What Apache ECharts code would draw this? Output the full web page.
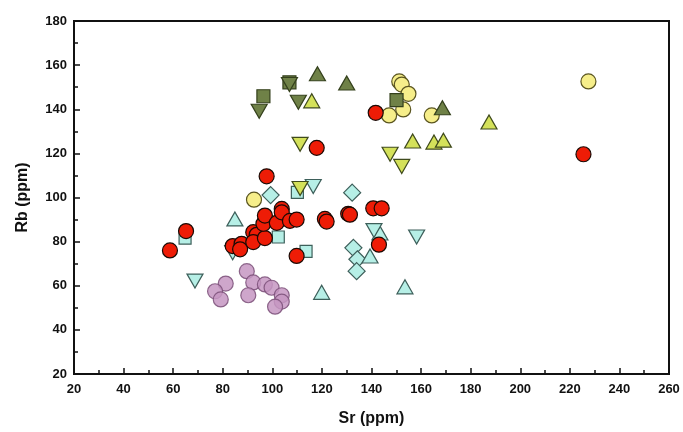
<!DOCTYPE html>
<html><head><meta charset="utf-8">
<script src="https://cdn.jsdelivr.net/npm/echarts@6/dist/echarts.min.js"></script>
<style>html,body{margin:0;padding:0;background:#fff}#c{width:683px;height:432px}</style>
</head><body><div id="c"></div>
<script>
const xTicks = [20,40,60,80,100,120,140,160,180,200,220,240,260];
const yTicks = [20,40,60,80,100,120,140,160,180];

const redCircles = [[58.7,76],[65.2,84.8],[84,78],[87.6,79],[87,76.5],[92.3,84.3],[93.7,83.1],[92.3,79.8],[97,81.6],[96.4,88.1],[97,91.8],[97.7,109.6],[101.8,88.5],[103.8,94.8],[103.8,93.3],[107.1,89.4],[109.8,90],[109.8,73.5],[117.9,122.5],[121.2,90.3],[121.9,89.1],[130.6,92.6],[131.3,92.2],[140.7,95.1],[144.1,95.1],[143,78.6],[141.7,138.4],[225.5,119.6]];
const yellowCircles = [[92.6,99],[151.2,152.6],[152.2,151.2],[154.9,147],[152.8,139.9],[147.1,137.2],[164.3,137.2],[227.5,152.6]];
const purpleCircles = [[89.7,66.6],[81.2,61],[76.9,57.5],[79.2,53.8],[92.3,61.5],[90.3,55.7],[97,60.6],[99.7,59.1],[103.8,55.7],[103.8,52.8],[101.1,50.5]];
const oliveSquares = [[96.4,145.9],[106.9,152.2],[150.1,144.1]];
const oliveTriangles = [[118.2,156.1],[130,151.9],[168.6,140.7]];
const oliveInvTriangles = [[94.7,139.1],[106.9,151.2],[110.5,143.2]];
const limeTriangles = [[115.9,143.8],[156.6,125.6],[165.2,125.1],[169,126],[187.4,134.2]];
const limeInvTriangles = [[111.2,124.1],[147.5,119.6],[152.2,114.1],[111.2,104.1]];
const cyanDiamonds = [[99.3,101.1],[132.2,102.2],[132.7,77.2],[134.3,72],[134,66.6]];
const cyanSquares = [[110.1,102.3],[102.4,82.1],[64.8,81.6],[113.6,75.6]];
const cyanTriangles = [[84.9,90.3],[119.9,57],[139.4,73.5],[143.4,83.9],[153.5,59.5]];
const cyanInvTriangles = [[116.5,105],[68.8,62.1],[141,85],[158.2,82.1],[84,75]];

function s(name, data, symbol, size, fill, border, rotate, opacity){
  return {name, type:'scatter', data, symbol, symbolSize:size, symbolRotate:rotate||0,
    itemStyle:{color:fill, borderColor:border, borderWidth:1.2, opacity:opacity==null?1:opacity},
    emphasis:{disabled:true}};
}
const cyan='#b6efe6', cyanB='#3d5f5a';
const lime='#d4e15a', limeB='#3f4a1c';
const olive='#6f8147', oliveB='#34401c';
const lab={fontFamily:'Liberation Sans',fontWeight:'bold',fontSize:13,color:'#111'};
const nm={fontFamily:'Liberation Sans',fontWeight:'bold',fontSize:16,color:'#111'};
const chart = echarts.init(document.getElementById('c'));
chart.setOption({
  animation:false,
  backgroundColor:'#fff',
  grid:{left:74,right:14,top:21,bottom:56,show:true,borderColor:'#111',borderWidth:2,backgroundColor:'transparent'},
  xAxis:{type:'value',min:xTicks[0],max:xTicks[xTicks.length-1],interval:20,
    name:'Sr (ppm)',nameLocation:'middle',nameGap:37,nameTextStyle:nm,
    axisLine:{lineStyle:{color:'#111',width:2}},
    axisTick:{inside:true,length:6,lineStyle:{color:'#111',width:1.5}},
    minorTick:{show:true,splitNumber:2,length:4,lineStyle:{color:'#111',width:1.5}},
    axisLabel:Object.assign({margin:9},lab),
    splitLine:{show:false}},
  yAxis:{type:'value',min:yTicks[0],max:yTicks[yTicks.length-1],interval:20,
    name:'Rb (ppm)',nameLocation:'middle',nameGap:43,nameTextStyle:nm,
    axisLine:{lineStyle:{color:'#111',width:2}},
    axisTick:{inside:true,length:6,lineStyle:{color:'#111',width:1.5}},
    minorTick:{show:true,splitNumber:2,length:4,lineStyle:{color:'#111',width:1.5}},
    axisLabel:Object.assign({margin:7},lab),
    splitLine:{show:false}},
  series:[
    s('cyanDiamonds',cyanDiamonds,'diamond',[17,17],cyan,cyanB),
    s('cyanSquares',cyanSquares,'rect',12,cyan,cyanB),
    s('cyanTriangles',cyanTriangles,'triangle',[16,14],cyan,cyanB),
    s('cyanInvTriangles',cyanInvTriangles,'triangle',[16,14],cyan,cyanB,180),
    s('yellowCircles',yellowCircles,'circle',15,'#f6ee8a','#5a5520'),
    s('purpleCircles',purpleCircles,'circle',15,'#c596c2','#7a4f78',0,0.85),
    s('limeTriangles',limeTriangles,'triangle',[16,14],lime,limeB),
    s('limeInvTriangles',limeInvTriangles,'triangle',[16,14],lime,limeB,180),
    s('oliveSquares',oliveSquares,'rect',13,olive,oliveB),
    s('oliveTriangles',oliveTriangles,'triangle',[16,14],olive,oliveB),
    s('oliveInvTriangles',oliveInvTriangles,'triangle',[16,14],olive,oliveB,180),
    s('redCircles',redCircles,'circle',15,'#ee1c06','#1a0a05')
  ]
});
</script></body></html>
